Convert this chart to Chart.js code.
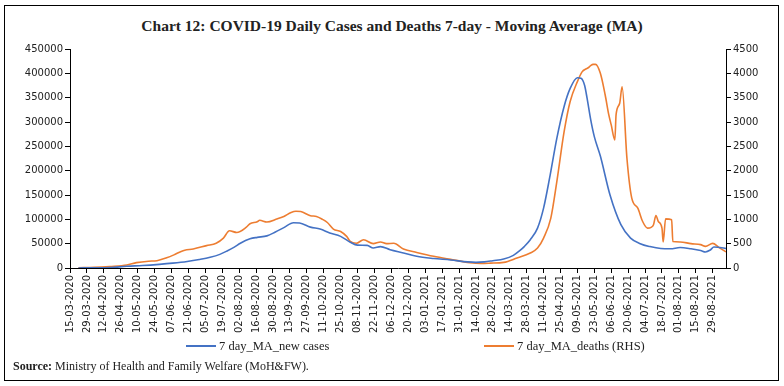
<!DOCTYPE html>
<html>
<head>
<meta charset="utf-8">
<script src="https://cdn.jsdelivr.net/npm/chart.js@4/dist/chart.umd.min.js"></script>
<style>
    body { margin: 0; background: #fff; }
    #wrap { position: relative; width: 784px; height: 386px; overflow: hidden; }
    #frame { position: absolute; left: 4px; top: 5px; width: 775px; height: 376px; border: 1px solid #000; box-sizing: border-box; }
    #title { position: absolute; left: 0; top: 17px; width: 784px; text-align: center; font: bold 15.5px "Liberation Serif", serif; color: #222; }
    #chart { position: absolute; left: 0; top: 0; }
    .leg { position: absolute; top: 339px; font: 12.5px "Liberation Serif", serif; color: #222; white-space: nowrap; }
    .leg span { display: inline-block; width: 30px; height: 2px; vertical-align: middle; margin-right: 3px; position: relative; top: -1px; }
    #source { position: absolute; left: 13px; top: 359px; font: 12px "Liberation Serif", serif; color: #222; }
</style>
</head>
<body>
<div id="wrap">
    <div id="frame"></div>
    <div id="title">Chart 12: COVID-19 Daily Cases and Deaths 7-day - Moving Average (MA)</div>
    <canvas id="chart" width="784" height="386"></canvas>
    <div class="leg" style="left:186px"><span style="background:#4472C4"></span>7 day_MA_new cases</div>
    <div class="leg" style="left:484px"><span style="background:#ED7D31"></span>7 day_MA_deaths (RHS)</div>
    <div id="source"><b>Source:</b> Ministry of Health and Family Welfare (MoH&amp;FW).</div>
</div>
<script>
// tick labels, one every 14 days starting 15-03-2020 (day 0)
const dateLabels = [
    '15-03-2020', '29-03-2020', '12-04-2020', '26-04-2020', '10-05-2020', '24-05-2020',
    '07-06-2020', '21-06-2020', '05-07-2020', '19-07-2020', '02-08-2020', '16-08-2020',
    '30-08-2020', '13-09-2020', '27-09-2020', '11-10-2020', '25-10-2020', '08-11-2020',
    '22-11-2020', '06-12-2020', '20-12-2020', '03-01-2021', '17-01-2021', '31-01-2021',
    '14-02-2021', '28-02-2021', '14-03-2021', '28-03-2021', '11-04-2021', '25-04-2021',
    '09-05-2021', '23-05-2021', '06-06-2021', '20-06-2021', '04-07-2021', '18-07-2021',
    '01-08-2021', '15-08-2021', '29-08-2021'
];
const lastDay = 543;

// 7 day MA new cases (LHS), days since 15-03-2020
const caseDays = [7, 20, 33, 47, 60, 74, 85, 97, 107, 116, 124, 130, 136, 141, 149, 155, 163, 170, 177, 185,
    190, 199, 207, 215, 224, 232, 238, 246, 251, 257, 265, 276, 287, 301, 315, 329, 336, 343, 350, 359,
    367, 372, 376, 381, 387, 392, 397, 403, 409, 414, 420, 423, 426, 428, 431, 434, 439, 447, 456, 464,
    472, 480, 489, 497, 505, 514, 522, 526, 530, 533, 541, 543];
const caseValues = [100, 300, 800, 3500, 5000, 7500, 10000, 13500, 17500, 22000, 28000, 35000, 43000, 51000, 60000, 63000, 66000, 74000, 83000, 93000,
    92500, 84000, 80000, 72000, 65000, 53000, 47000, 46500, 41000, 44000, 37500, 31000, 24000, 19500, 16500, 12500, 11500, 12500, 15000, 18500,
    26000, 35000, 44000, 58000, 82000, 123000, 185000, 267000, 332000, 369000, 391000, 390000, 375000, 349000, 305000, 270000, 230000, 150000, 89000, 61500,
    50000, 44000, 40000, 39500, 42000, 39500, 36000, 33000, 37000, 43000, 41000, 40000];

// 7 day MA deaths (RHS)
const deathDays = [7, 20, 33, 47, 55, 65, 72, 80, 86, 92, 95, 102, 113, 121, 127, 132, 138, 146, 149, 155,
    157, 163, 171, 177, 183, 187, 191, 199, 204, 209, 213, 218, 224, 229, 232, 237, 243, 251, 257, 262,
    268, 276, 287, 301, 315, 331, 340, 348, 359, 370, 381, 387, 392, 398, 403, 409, 414, 420, 424, 427,
    429, 431, 433, 435, 439, 443, 446, 448, 451, 452, 455, 457, 461, 465, 470, 474, 478, 481, 483, 485,
    487, 490, 491, 493, 498, 499, 505, 514, 522, 526, 532, 537, 543];
const deathValues = [5, 12, 30, 60, 110, 140, 150, 210, 270, 340, 365, 390, 460, 510, 615, 765, 730, 840, 910, 950,
    980, 945, 1005, 1060, 1140, 1165, 1160, 1075, 1060, 1000, 935, 800, 750, 650, 545, 510, 580, 500, 535, 500,
    510, 390, 320, 240, 177, 110, 95, 100, 115, 205, 307, 410, 615, 1025, 1780, 2800, 3420, 3830, 4035, 4090,
    4115, 4160, 4185, 4185, 4000, 3555, 3145, 2940, 2630, 3145, 3385, 3725, 2255, 1435, 1230, 955, 820, 835, 890, 1080,
    955, 820, 535, 1010, 990, 545, 535, 500, 480, 445, 505, 425, 330];

const tickFont = { family: 'DejaVu Sans', size: 10 };
const tickColor = '#222';

function toPoints(days, values) {
    return days.map((d, i) => ({ x: d, y: values[i] }));
}

const ctx = document.getElementById('chart').getContext('2d');
const chart = new Chart(ctx, {
    type: 'line',
    data: {
        datasets: [
            {
                label: '7 day_MA_new cases',
                data: toPoints(caseDays, caseValues),
                borderColor: '#4472C4',
                borderWidth: 1.6,
                pointRadius: 0,
                cubicInterpolationMode: 'monotone',
                yAxisID: 'y'
            },
            {
                label: '7 day_MA_deaths (RHS)',
                data: toPoints(deathDays, deathValues),
                borderColor: '#ED7D31',
                borderWidth: 1.6,
                pointRadius: 0,
                cubicInterpolationMode: 'monotone',
                yAxisID: 'y1'
            }
        ]
    },
    options: {
        responsive: false,
        devicePixelRatio: 1,
        animation: false,
        layout: { padding: { top: 49, left: 0, right: 0, bottom: 0 } },
        plugins: {
            legend: { display: false },
            tooltip: { enabled: false }
        },
        scales: {
            x: {
                type: 'linear',
                min: 0,
                max: lastDay,
                afterBuildTicks: scale => {
                    scale.ticks = dateLabels.map((l, i) => ({ value: i * 14 }));
                },
                afterFit: scale => { scale.height = 118; },
                ticks: {
                    autoSkip: false,
                    maxRotation: 90,
                    minRotation: 90,
                    padding: 2,
                    font: tickFont,
                    color: tickColor,
                    callback: v => dateLabels[Math.round(v / 14)] || ''
                },
                grid: { drawOnChartArea: false, tickLength: 5, color: '#000' },
                border: { color: '#000', width: 1 }
            },
            y: {
                position: 'left',
                min: 0,
                max: 450000,
                afterFit: scale => { scale.width = 70; },
                ticks: { stepSize: 50000, font: tickFont, color: tickColor, padding: 2, callback: v => String(v) },
                grid: { drawOnChartArea: false, tickLength: 5, color: '#000' },
                border: { color: '#000', width: 1 }
            },
            y1: {
                position: 'right',
                min: 0,
                max: 4500,
                afterFit: scale => { scale.width = 58; },
                ticks: { stepSize: 500, font: tickFont, color: tickColor, padding: 2, callback: v => String(v) },
                grid: { drawOnChartArea: false, tickLength: 5, color: '#000' },
                border: { color: '#000', width: 1 }
            }
        }
    }
});
</script>
</body>
</html>
